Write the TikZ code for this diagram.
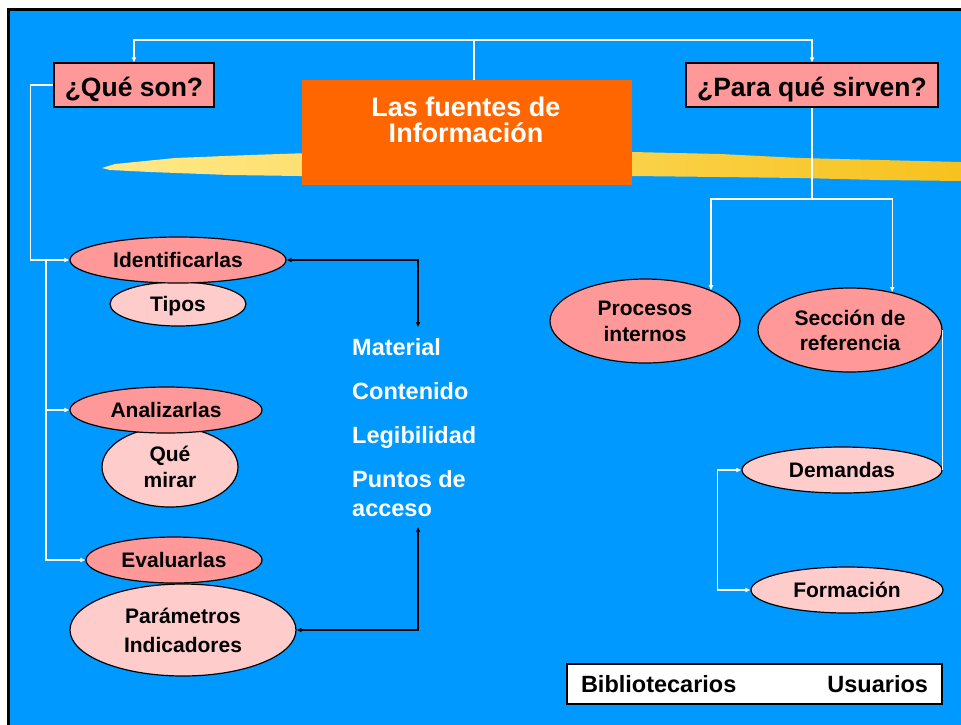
\documentclass[tikz,border=0pt]{standalone}
\usepackage{fontspec}
\setmainfont{Liberation Sans}
\usetikzlibrary{shapes.geometric,arrows.meta,calc}
\definecolor{bgblue}{HTML}{0099FF}
\definecolor{pinkA}{HTML}{FF9999}
\definecolor{pinkB}{HTML}{FFCCCC}
\definecolor{orangeA}{HTML}{FF6600}
\definecolor{brushL}{HTML}{FFE98A}
\definecolor{brushR}{HTML}{F7C21E}
\tikzset{
  >={Triangle[length=5pt,width=4pt]},
  wline/.style={draw=white, line width=1.2pt},
  bline/.style={draw=black, line width=1.3pt},
  qbox/.style={draw=black, line width=1.2pt, fill=pinkA, minimum height=44, inner sep=0,
     text height=22pt, text depth=0pt,
     font=\fontsize{26.5}{30}\selectfont\bfseries},
  ellbase/.style={ellipse, draw=black, line width=1.2pt, inner sep=0, align=center,
     font=\fontsize{21}{26}\selectfont\bfseries},
  ellA/.style={ellbase, fill=pinkA},
  ellB/.style={ellbase, fill=pinkB},
}
\begin{document}
\begin{tikzpicture}[x=1pt,y=-1pt]
\useasboundingbox (0,0) rectangle (961,724);
\fill[white] (0,0) rectangle (961,724);
\draw[black, line width=3pt, fill=bgblue] (8,9.5) rectangle (980,745);

% brush stroke
\shade[left color=brushL, right color=brushR]
  (102,168) -- (115,164) -- (175,158) -- (250,155) -- (310,153) -- (632,152)
  -- (720,154) -- (800,158) -- (880,160) -- (961,162) -- (961,181) -- (880,180)
  -- (800,178) -- (720,177) -- (632,176) -- (300,176) -- (230,175) -- (150,172)
  -- (110,170) -- cycle;

% top boxes
\node[fill=orangeA, minimum width=330, minimum height=105, inner sep=0] (orange) at (467,132.5) {};
\node[text=white, align=center, inner sep=0, font=\fontsize{27}{26}\selectfont\bfseries] (title) at (466,119.5) {Las fuentes de\\Información};
\node[qbox, minimum width=160] (qson) at (134,85) {¿Qué son?};
\node[qbox, minimum width=252] (psirven) at (812,85) {¿Para qué sirven?};

% left ellipses
\node[ellB, minimum width=136, minimum height=44, text depth=0pt] (tipos) at (178,304) {Tipos};
\node[ellA, minimum width=216, minimum height=46] (ident) at (178,260) {Identificarlas};
\node[ellB, minimum width=136, minimum height=80] (que) at (170,467) {Qué\\mirar};
\node[ellA, minimum width=192, minimum height=46] (anal) at (166,410) {Analizarlas};
\node[ellB, minimum width=226, minimum height=92] (param) at (183,630) {Parámetros\\[3pt]Indicadores};
\node[ellA, minimum width=176, minimum height=46] (eval) at (174,560) {Evaluarlas};

% right ellipses
\node[ellA, minimum width=190, minimum height=84] (procesos) at (645,321) {Procesos\\internos};
\node[ellA, minimum width=184, minimum height=84] (seccion) at (850,330) {Sección de\\[-1pt]referencia};
\node[ellB, minimum width=200, minimum height=46] (demandas) at (842,470) {Demandas};
\node[ellB, minimum width=192, minimum height=46] (formacion) at (847,590) {Formación};

% list text
\node[anchor=north west, inner sep=0, text=white, align=left,
  font=\fontsize{23.5}{29}\selectfont\bfseries] (list) at (352,338)
  {Material\\[15pt]Contenido\\[15pt]Legibilidad\\[15pt]Puntos de\\acceso};

% legend box
\node[draw=black, line width=1.2pt, fill=white, minimum height=40, inner xsep=14, inner ysep=0,
  text width=347, font=\fontsize{23.5}{28}\selectfont\bfseries] (legend) at (754.5,684)
  {Bibliotecarios\hfill Usuarios};

% coordinates
\coordinate (topjoin) at (474,40);
\coordinate (rjoin) at (812,199);
\coordinate (lj) at (46,260);
\coordinate (matTop) at (418,327);
\coordinate (accBot) at (418,527);

% white connectors
\draw[wline] (orange.north -| topjoin) -- (topjoin);
\draw[wline,<->] (qson.north) |- (topjoin) -| (psirven.north);
\draw[wline] (psirven.south) -- (rjoin);
\draw[wline,->] (rjoin) -| (procesos.25);
\draw[wline,->] (rjoin) -| (seccion.42);
\draw[wline] (seccion.east) |- (demandas.east);
\draw[wline,<->] (demandas.west) -- ++(-24,0) |- (formacion.west);
\draw[wline,->] (qson.west) -- ++(-23,0) |- (ident.west);
\draw[wline,->] (lj) |- (anal.west);
\draw[wline,->] (lj) |- (eval.west);

% black connectors
\draw[bline,<->] (ident.east) -| (matTop);
\draw[bline,<->] (param.east) -| (accBot);
\end{tikzpicture}
\end{document}
